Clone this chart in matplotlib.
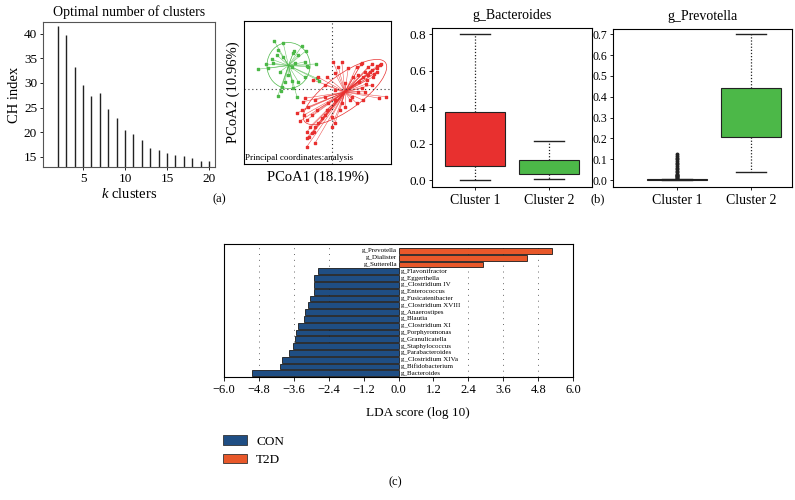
import matplotlib
matplotlib.use('Agg')
import matplotlib.pyplot as plt
from matplotlib.patches import Ellipse, Patch

plt.rcParams['font.family'] = ['Liberation Serif', 'DejaVu Serif']
plt.rcParams['mathtext.fontset'] = 'custom'
plt.rcParams['mathtext.it'] = 'Liberation Serif:italic'
plt.rcParams['mathtext.rm'] = 'Liberation Serif'

# (a) left: CH index per number of clusters
k_clusters = list(range(2, 21))
ch_index = [41.5, 39.7, 33.3, 29.6, 27.3, 28.0, 24.8, 22.9, 20.5, 19.6,
            18.3, 16.8, 16.4, 15.7, 15.4, 15.1, 14.7, 14.2, 14.2]

# (a) right: PCoA scores
green_pc1 = [-0.231, -0.195, -0.215, -0.221, -0.195, -0.155, -0.135, -0.108, -0.095, -0.297,
             -0.255, -0.235, -0.208, -0.175, -0.188, -0.201, -0.217, -0.140, -0.155, -0.135,
             -0.108, -0.061, -0.051, -0.161, -0.148, -0.241, -0.120, -0.105, -0.265, -0.152,
             -0.100, -0.065, -0.160, -0.205]
green_pc2 = [0.192, 0.183, 0.156, 0.136, 0.129, 0.145, 0.136, 0.109, 0.089, 0.079,
             0.083, 0.103, 0.069, 0.056, 0.029, 0.009, -0.028, -0.032, 0.003, 0.029,
             0.047, 0.043, 0.033, 0.089, 0.103, 0.119, 0.172, 0.152, 0.100, 0.152,
             0.092, 0.100, 0.032, -0.008]
red_pc1 = [0.192, 0.179, 0.159, 0.145, 0.132, 0.119, 0.105, 0.165, 0.179, 0.139,
           0.099, 0.039, 0.005, 0.012, -0.021, -0.055, -0.075, -0.028, -0.068, -0.108,
           -0.115, -0.095, -0.061, -0.081, -0.101, -0.088, -0.101, -0.101, -0.081, -0.068,
           -0.055, -0.041, -0.028, -0.021, -0.001, -0.001, 0.012, -0.015, 0.012, 0.032,
           0.052, 0.072, 0.079, 0.105, 0.099, 0.119, 0.132, 0.159, 0.052, 0.085,
           0.065, 0.025, -0.028, 0.012, 0.039, 0.189, 0.216, 0.123, 0.116, 0.196,
           -0.120, -0.112, -0.072, -0.092, -0.101, -0.068, -0.128, -0.140, 0.152, 0.168,
           0.124, 0.144, 0.180, 0.160, 0.108, 0.136]
red_pc2 = [0.096, 0.083, 0.076, 0.089, 0.069, 0.103, 0.056, 0.049, 0.069, 0.036,
           0.089, 0.109, 0.109, 0.063, 0.049, 0.047, 0.036, 0.016, -0.044, -0.037,
           -0.051, -0.071, -0.084, -0.104, -0.124, -0.151, -0.171, -0.197, -0.177, -0.151,
           -0.137, -0.117, -0.104, -0.084, -0.111, -0.151, -0.137, -0.057, -0.044, -0.084,
           -0.071, -0.044, -0.031, -0.011, -0.057, 0.003, -0.011, 0.016, 0.023, 0.049,
           0.083, 0.089, -0.031, -0.004, -0.057, -0.037, -0.031, -0.044, 0.099, 0.099,
           -0.084, -0.104, -0.171, -0.191, -0.231, -0.217, -0.128, -0.096, 0.068, 0.060,
           0.048, 0.056, 0.092, 0.100, 0.028, 0.020]
green_centre = (-0.174, 0.094)
red_centre = (0.052, -0.012)

# (b) boxplot summaries
cluster_names = ['Cluster 1', 'Cluster 2']
bacteroides_stats = [
    dict(whislo=0.0, q1=0.078, med=0.20, q3=0.373, whishi=0.80, fliers=[]),
    dict(whislo=0.009, q1=0.035, med=0.07, q3=0.11, whishi=0.213, fliers=[]),
]
prevotella_outliers = [0.008, 0.011, 0.014, 0.017, 0.02, 0.023, 0.026, 0.03, 0.037, 0.045,
                       0.053, 0.06, 0.068, 0.076, 0.084, 0.092, 0.1, 0.108, 0.116, 0.124]
prevotella_stats = [
    dict(whislo=0.0, q1=0.0, med=0.0, q3=0.003, whishi=0.004, fliers=prevotella_outliers),
    dict(whislo=0.04, q1=0.207, med=0.32, q3=0.444, whishi=0.70, fliers=[]),
]

# (c) LDA scores
lda_taxa = ['g_Prevotella', 'g_Dialister', 'g_Sutterella', 'g_Flavonifractor', 'g_Eggerthella',
            'g_Clostridium IV', 'g_Enterococcus', 'g_Fusicatenibacter', 'g_Clostridium XVIII',
            'g_Anaerostipes', 'g_Blautia', 'g_Clostridium XI', 'g_Porphyromonas',
            'g_Granulicatella', 'g_Staphylococcus', 'g_Parabacteroides', 'g_Clostridium XIVa',
            'g_Bifidobacterium', 'g_Bacteroides']
lda_scores = [5.28, 4.42, 2.90, -2.76, -2.89, -2.89, -2.89, -3.06, -3.13,
              -3.20, -3.24, -3.44, -3.51, -3.55, -3.63, -3.78, -3.99, -4.08, -5.03]
lda_ticks = [-6.0, -4.8, -3.6, -2.4, -1.2, 0.0, 1.2, 2.4, 3.6, 4.8, 6.0]
lda_grid = [-4.8, -3.6, -2.4, 2.4, 3.6, 4.8]

RED = '#e8302f'
GREEN = '#4cb848'
CON = '#1f4e84'
T2D = '#e8582a'

fig = plt.figure(figsize=(7.95, 5.0), dpi=100)

# ---- (a) CH index
ax1 = fig.add_axes([0.0537, 0.666, 0.2167, 0.290])
ax1.vlines(k_clusters, 12.9, ch_index, color='#222222', linewidth=1.0)
ax1.set_xlim(0.2, 20.7)
ax1.set_ylim(12.9, 42.4)
ax1.set_xticks([5, 10, 15, 20])
ax1.set_yticks([15, 20, 25, 30, 35, 40])
ax1.tick_params(labelsize=9.5, length=2.5, width=0.6, pad=1.5)
for s in ax1.spines.values():
    s.set_color('#555555')
    s.set_linewidth(0.8)
ax1.set_title('Optimal number of clusters', fontsize=10, pad=4)
ax1.set_ylabel('CH index', fontsize=10.5, labelpad=2)
ax1.set_xlabel(r'$\mathit{k}$ clusters', fontsize=10.5, labelpad=2)

# ---- (a) PCoA
ax2 = fig.add_axes([0.3069, 0.672, 0.1849, 0.286])
for xs, ys, c, col in [(green_pc1, green_pc2, green_centre, GREEN),
                       (red_pc1, red_pc2, red_centre, RED)]:
    for x, y in zip(xs, ys):
        ax2.plot([c[0], x], [c[1], y], color=col, linewidth=0.4, alpha=0.8)
    ax2.scatter(xs, ys, s=0.8, marker='s', color=col, zorder=3)
ax2.add_patch(Ellipse(green_centre, 0.172, 0.184, angle=0, fill=False,
                      edgecolor=GREEN, linewidth=0.5))
ax2.add_patch(Ellipse(red_centre, 0.40, 0.14, angle=36, fill=False,
                      edgecolor=RED, linewidth=0.5))
ax2.axvline(0, color='#333333', linestyle=(0, (1, 2.5)), linewidth=0.8)
ax2.axhline(0, color='#333333', linestyle=(0, (1, 2.5)), linewidth=0.8)
ax2.set_xlim(-0.352, 0.236)
ax2.set_ylim(-0.30, 0.272)
ax2.set_xticks([])
ax2.set_yticks([])
ax2.text(0.01, 0.015, 'Principal coordinates:analysis', transform=ax2.transAxes,
         fontsize=6.5, ha='left', va='bottom')
ax2.set_xlabel('PCoA1 (18.19%)', fontsize=10.5, labelpad=5)
ax2.set_ylabel('PCoA2 (10.96%)', fontsize=10.5, labelpad=3)

# ---- (b) boxplots
def draw_box(ax, stats, colors, xlim, ylim, yticks, title, fs):
    bp = ax.bxp(stats, positions=[1, 2], widths=0.8, capwidths=0.4, patch_artist=True,
                showfliers=True,
                whiskerprops=dict(linestyle=(0, (1, 1.5)), linewidth=0.9, color='#222222'),
                capprops=dict(linewidth=1.0, color='#222222'),
                medianprops=dict(linewidth=0),
                flierprops=dict(marker='o', markersize=1.8, markerfacecolor='#222222',
                                markeredgecolor='#222222'))
    for patch, col in zip(bp['boxes'], colors):
        patch.set_facecolor(col)
        patch.set_edgecolor('#222222')
        patch.set_linewidth(0.8)
    ax.set_xlim(*xlim)
    ax.set_ylim(*ylim)
    ax.set_yticks(yticks)
    ax.set_xticks([1, 2])
    ax.set_xticklabels(cluster_names, fontsize=10)
    ax.tick_params(axis='y', labelsize=fs, length=2.5, width=0.6, pad=1.5)
    ax.tick_params(axis='x', length=2.5, width=0.6, pad=3)
    for s in ax.spines.values():
        s.set_linewidth(0.8)
    ax.set_title(title, fontsize=10, pad=7)

ax3 = fig.add_axes([0.5434, 0.6266, 0.2013, 0.3168])
draw_box(ax3, bacteroides_stats, [RED, GREEN], (0.42, 2.58), (-0.035, 0.833),
         [0.0, 0.2, 0.4, 0.6, 0.8], 'g_Bacteroides', 9.5)

ax4 = fig.add_axes([0.771, 0.6266, 0.2252, 0.3148])
draw_box(ax4, prevotella_stats, [RED, GREEN], (0.14, 2.55), (-0.032, 0.724),
         [0.0, 0.1, 0.2, 0.3, 0.4, 0.5, 0.6, 0.7], 'g_Prevotella', 8.5)

# ---- (c) LDA
ax5 = fig.add_axes([0.2818, 0.2466, 0.439, 0.2654])
rows = list(range(len(lda_taxa)))
bar_cols = [T2D if v > 0 else CON for v in lda_scores]
for xv in lda_grid:
    ax5.axvline(xv, color='#666666', linestyle=(0, (1, 5)), linewidth=0.7, zorder=0)
ax5.barh(rows, lda_scores, height=0.85, color=bar_cols, edgecolor='#1a1a1a',
         linewidth=0.6, zorder=2)
for r, name, v in zip(rows, lda_taxa, lda_scores):
    if v > 0:
        ax5.text(-0.05, r, name, ha='right', va='center', fontsize=5, zorder=3)
    else:
        ax5.text(0.08, r, name, ha='left', va='center', fontsize=5, zorder=3)
ax5.set_xlim(-6.0, 6.0)
ax5.set_ylim(18.5, -1.0)
ax5.set_yticks([])
ax5.set_xticks(lda_ticks)
ax5.set_xticklabels(['%.1f' % t if t >= 0 else '\u2212%.1f' % -t for t in lda_ticks])
ax5.tick_params(axis='x', labelsize=9, length=3, width=0.6, pad=2)
for s in ax5.spines.values():
    s.set_linewidth(0.8)
fig.text(418 / 795, 1 - 413 / 500, 'LDA score (log 10)', fontsize=9.5, ha='center', va='center')

handles = [Patch(facecolor=CON, edgecolor='#333333', linewidth=0.6),
           Patch(facecolor=T2D, edgecolor='#333333', linewidth=0.6)]
fig.legend(handles, ['CON', 'T2D'], loc='upper left', bbox_to_anchor=(0.274, 1 - 430 / 500),
           frameon=False, fontsize=9.5, handlelength=1.8, handleheight=0.75,
           handletextpad=0.7, labelspacing=0.45, borderaxespad=0)

fig.text(219 / 795, 1 - 199 / 500, '(a)', fontsize=9, ha='center', va='center')
fig.text(598 / 795, 1 - 199 / 500, '(b)', fontsize=9, ha='center', va='center')
fig.text(395 / 795, 1 - 482 / 500, '(c)', fontsize=9, ha='center', va='center')

fig.savefig('out.png', dpi=100)
